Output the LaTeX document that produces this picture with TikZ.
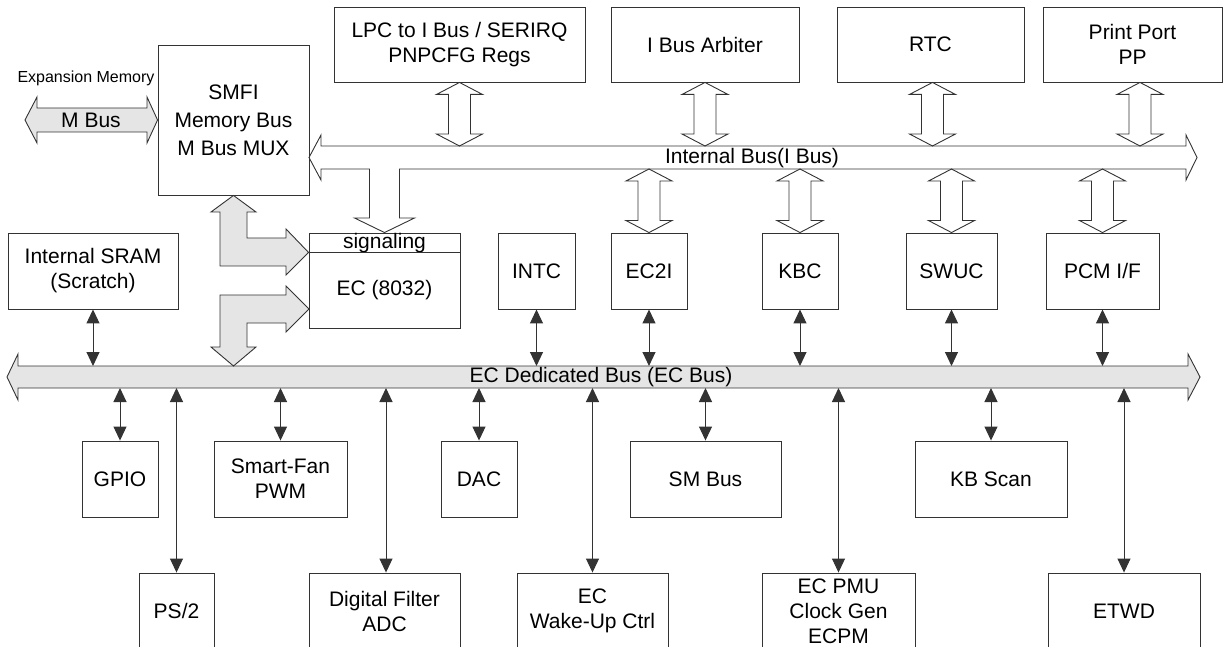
\documentclass[tikz,border=0pt]{standalone}
\usepackage{fontspec}
\setmainfont{Liberation Sans}
\usetikzlibrary{arrows.meta,calc}

\begin{document}
\begin{tikzpicture}[
  x=1pt, y=-1pt,
  font=\fontsize{21}{25}\selectfont,
  blk/.style={draw=black!80, line width=0.9pt, inner sep=0pt, align=center},
  sz/.style 2 args={minimum width=#1pt, minimum height=#2pt},
  bus/.style={draw=black!80, line width=0.9pt},
  dbl/.style={draw=black!80, line width=1pt, >={Triangle[length=14pt,width=13pt]}, <->},
  hollow/.style={to path={let \p1=(\tikztostart), \p2=(\tikztotarget) in
    (\x1,\y1) -- (\x1+23pt,\y1-12pt) -- (\x1+11pt,\y1-12pt) -- (\x1+11pt,\y2+12pt)
    -- (\x1+23pt,\y2+12pt) -- (\x1,\y2) -- (\x1-23pt,\y2+12pt) -- (\x1-11pt,\y2+12pt)
    -- (\x1-11pt,\y1-12pt) -- (\x1-23pt,\y1-12pt) -- cycle}},
]
\useasboundingbox (0,0) rectangle (1227,647);
\clip (0,0) rectangle (1227,647);

\node[blk, sz={151}{150}, font=\fontsize{21}{28}\selectfont] (smfi) at (233.5,120) {SMFI\\Memory Bus\\M Bus MUX};
\node[blk, sz={251}{75}] (lpc) at (459.5,44.5) {LPC to I Bus / SERIRQ\\PNPCFG Regs};
\node[blk, sz={188}{75}] (arb) at (705,44.5) {I Bus Arbiter};
\node[blk, sz={187}{75}] (rtc) at (930.5,44.5) {RTC};
\node[blk, sz={179}{75}] (pp) at (1132.5,44.5) {Print Port\\PP};

\node[blk, sz={170}{76}] (sram) at (93,271) {Internal SRAM\\(Scratch)};
\node[blk, sz={151}{19}, text height=16pt, text depth=3pt] (sig) at (384.5,242.5) {signaling};
\node[blk, sz={151}{76}] (ec) at (384.5,290) {EC (8032)};
\node[blk, sz={77}{76}] (intc) at (536.5,271) {INTC};
\node[blk, sz={76}{76}] (ec2i) at (649,271) {EC2I};
\node[blk, sz={76}{76}] (kbc) at (800,271) {KBC};
\node[blk, sz={91}{76}] (swuc) at (951.5,271) {SWUC};
\node[blk, sz={113}{76}] (pcm) at (1102.5,271) {PCM I/F};

\node[blk, sz={76}{76}] (gpio) at (120,479) {GPIO};
\node[blk, sz={133}{76}] (fan) at (280.5,479) {Smart-Fan\\PWM};
\node[blk, sz={76}{76}] (dac) at (479,479) {DAC};
\node[blk, sz={151}{76}] (smbus) at (705.5,479) {SM Bus};
\node[blk, sz={152}{76}] (kbscan) at (991,479) {KB Scan};

\node[blk, sz={75}{76}] (ps2) at (176.5,611) {PS/2};
\node[blk, sz={151}{76}] (adc) at (384.5,611) {Digital Filter\\ADC};
\node[blk, sz={151}{76}] (wake) at (592.5,611) {EC\\Wake-Up Ctrl};
\node[blk, sz={153}{76}] (pmu) at (838.5,611) {EC PMU\\Clock Gen\\ECPM};
\node[blk, sz={152}{76}] (etwd) at (1124,611) {ETWD};

\draw[bus] (309,157.5) -- (321,135) -- (321,146) -- (1186,146) -- (1186,135) -- (1197,157.5)
  -- (1186,180) -- (1186,169) -- (399.5,169) -- (399.5,218) -- (414.5,218) -- (sig.north)
  -- (354.5,218) -- (369.5,218) -- (369.5,169) -- (321,169) -- (321,180) -- cycle;
\node (ibus) at (752,158.5) {Internal Bus(I Bus)};
\coordinate (ibusN) at (0,146);
\coordinate (ibusS) at (0,169);

\draw[bus, fill=gray!20] (7,377) -- (18,354) -- (18,366) -- (1188,366) -- (1188,354) -- (1200,377)
  -- (1188,400) -- (1188,388) -- (18,388) -- (18,400) -- cycle;
\node (ecbus) at (601,377) {EC Dedicated Bus (EC Bus)};
\coordinate (ecN) at (0,366);
\coordinate (ecS) at (0,388);

\draw[bus, fill=gray!20] (25,120) -- (37,97) -- (37,108) -- (147,108) -- (147,97) -- (smfi.west)
  -- (147,143) -- (147,132) -- (37,132) -- (37,143) -- cycle;
\node (mbus) at (91,120) {M Bus};
\node[font=\fontsize{16}{18}\selectfont] (expmem) at (86,78) {Expansion Memory};

\draw[bus, fill=gray!20] (smfi.south) -- (256,212) -- (247,212) -- (247,238) -- (286,238) -- (286,229)
  -- (sig.south west) -- (286,275) -- (286,266) -- (220,266) -- (220,212) -- (211,212) -- cycle;
\draw[bus, fill=gray!20] (309,309) -- (286,286) -- (286,295) -- (220,295) -- (220,347) -- (211,347)
  -- (233.5,366) -- (256,347) -- (247,347) -- (247,323) -- (286,323) -- (286,332) -- cycle;

\draw[bus] (lpc.south) to[hollow] (lpc.south |- ibusN);
\draw[bus] (arb.south) to[hollow] (arb.south |- ibusN);
\draw[bus] ([xshift=2pt]rtc.south) to[hollow] ([xshift=2pt]rtc.south |- ibusN);
\draw[bus] ([xshift=7.5pt]pp.south) to[hollow] ([xshift=7.5pt]pp.south |- ibusN);
\draw[bus] (ibusS -| ec2i.north) to[hollow] (ec2i.north);
\draw[bus] (ibusS -| kbc.north) to[hollow] (kbc.north);
\draw[bus] (ibusS -| swuc.north) to[hollow] (swuc.north);
\draw[bus] (ibusS -| pcm.north) to[hollow] (pcm.north);

\draw[dbl] (sram.south) -- (sram.south |- ecN);
\draw[dbl] (intc.south) -- (intc.south |- ecN);
\draw[dbl] (ec2i.south) -- (ec2i.south |- ecN);
\draw[dbl] (kbc.south) -- (kbc.south |- ecN);
\draw[dbl] (swuc.south) -- (swuc.south |- ecN);
\draw[dbl] (pcm.south) -- (pcm.south |- ecN);
\draw[dbl] (gpio.north |- ecS) -- (gpio.north);
\draw[dbl] (fan.north |- ecS) -- (fan.north);
\draw[dbl] (dac.north |- ecS) -- (dac.north);
\draw[dbl] (smbus.north |- ecS) -- (smbus.north);
\draw[dbl] (kbscan.north |- ecS) -- (kbscan.north);
\draw[dbl] (ps2.north |- ecS) -- (ps2.north);
\draw[dbl] ([xshift=1.5pt]adc.north |- ecS) -- ([xshift=1.5pt]adc.north);
\draw[dbl] (wake.north |- ecS) -- (wake.north);
\draw[dbl] (pmu.north |- ecS) -- (pmu.north);
\draw[dbl] (etwd.north |- ecS) -- (etwd.north);
\end{tikzpicture}
\end{document}
